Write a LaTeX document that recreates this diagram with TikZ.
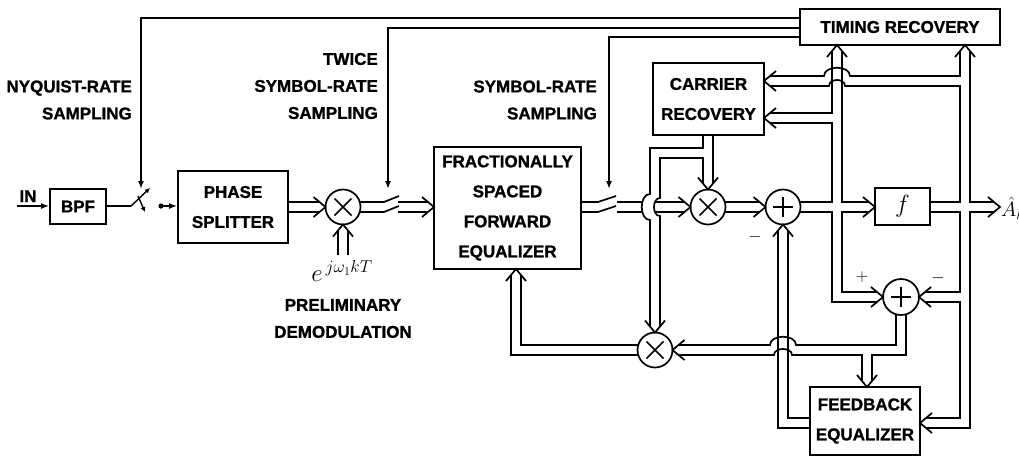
\documentclass[tikz,border=0pt]{standalone}
\usepackage[no-math]{fontspec}
\setmainfont{Liberation Sans}[BoldFeatures={FakeBold=1.2}]
\usetikzlibrary{arrows.meta}
\newcommand\chevR[2]{\draw[ln] (#1-12,#2-10) -- (#1,#2) -- (#1-12,#2+10);}
\newcommand\chevL[2]{\draw[ln] (#1+12,#2-10) -- (#1,#2) -- (#1+12,#2+10);}
\newcommand\chevU[2]{\draw[ln] (#1-10,#2+12) -- (#1,#2) -- (#1+10,#2+12);}
\newcommand\chevD[2]{\draw[ln] (#1-10,#2-12) -- (#1,#2) -- (#1+10,#2-12);}
\tikzset{
 ln/.style={line width=1.7pt},
 box/.style={draw, line width=1.7pt, inner sep=0pt, align=center, font=\bfseries\fontsize{17}{30}\selectfont},
 lbl/.style={inner sep=0pt, font=\bfseries\fontsize{17}{27}\selectfont},
 circ/.style={draw, circle, line width=1.7pt, inner sep=0pt, minimum size=35pt},
 arr/.style={ln, -{Latex[length=8pt,width=6pt]}},
 sarr/.style={line width=1.4pt, -{Latex[length=5pt,width=5pt]}},
}
\begin{document}
\begin{tikzpicture}[x=1pt,y=-1pt]
\useasboundingbox (0,0) rectangle (1019,459);
% boxes
\node[box, minimum width=56pt, minimum height=35pt] (bpf) at (78,206.5) {BPF};
\node[box, minimum width=110pt, minimum height=72pt] (ps) at (233,207) {PHASE\\SPLITTER};
\node[box, minimum width=147pt, minimum height=122pt] (fse) at (507.5,208) {FRACTIONALLY\\SPACED\\FORWARD\\EQUALIZER};
\node[box, minimum width=111pt, minimum height=72pt] (cr) at (708.5,99) {CARRIER\\RECOVERY};
\node[box, minimum width=200pt, minimum height=36pt] (tr) at (900,27) {TIMING RECOVERY};
\node[box, minimum width=55pt, minimum height=37pt, font=\fontsize{30}{30}\selectfont] (fb) at (902.5,206.5) {$f$};
\node[box, minimum width=110pt, minimum height=68pt] (fe) at (865,421) {FEEDBACK\\EQUALIZER};
% circles
\node[circ] (m1) at (343,207) {};
\node[circ] (m2) at (708,207) {};
\node[circ] (s1) at (783,207) {};
\node[circ, minimum size=36pt] (s2) at (901,297) {};
\node[circ] (m3) at (655,350) {};
\foreach \c in {m1,m2,m3}{
  \draw[ln] (\c.center) +(-8.5,-8.5) -- +(8.5,8.5);
  \draw[ln] (\c.center) +(-8.5,8.5) -- +(8.5,-8.5);}
\foreach \c in {s1,s2}{
  \draw[ln] (\c.center) +(-10,0) -- +(10,0);
  \draw[ln] (\c.center) +(0,-10) -- +(0,10);}
% labels
\node[lbl, anchor=base] (inl) at (28,202) {IN};
\node[lbl, anchor=east, align=right] (nyq) at (132,100) {NYQUIST-RATE\\SAMPLING};
\node[lbl, anchor=east, align=right] (twice) at (378,86) {TWICE\\SYMBOL-RATE\\SAMPLING};
\node[lbl, anchor=east, align=right] (symb) at (597,100) {SYMBOL-RATE\\SAMPLING};
\node[lbl, align=center] (prel) at (343,318.5) {PRELIMINARY\\DEMODULATION};
\node[inner sep=0pt, font=\fontsize{26}{26}\selectfont] (ex) at (342,271) {$e^{\,j\omega_1 kT}$};
\node[inner sep=0pt, anchor=west, font=\fontsize{20}{20}\selectfont] (ahat) at (1001,208) {$\hat{A}_k$};
\node[inner sep=0pt, font=\fontsize{18}{18}\selectfont] (pl) at (862,277) {$+$};
\node[inner sep=0pt, font=\fontsize{18}{18}\selectfont] (mi2) at (938,278) {$-$};
\node[inner sep=0pt, font=\fontsize{18}{18}\selectfont] (mi1) at (755,237) {$-$};
% input
\coordinate (in) at (17,206);
\draw[arr] (in) -- (bpf.west |- in);
\draw[ln] (106,206) -- (131,206);
\draw[sarr] (131,206) -- (150,188);
\draw[sarr] (138,196) -- (145,212);
\coordinate (dot) at (161,206);
\fill (dot) circle[radius=2.6];
\draw[arr] (dot) -- (ps.west |- dot);
% sampling control lines
\draw[arr] (800,18) -- (141,18) -- (141,189);
\draw[arr] (800,28) -- (388,28) -- (388,189);
\draw[arr] (800,37) -- (609,37) -- (609,189);
% PS -> M1
\draw[ln] (288,202) -- (319.5,202); \draw[ln] (288,212) -- (319.5,212); \chevR{325.5}{207}
\draw[ln] (338,255) -- (338,230.5); \draw[ln] (348,255) -- (348,230.5); \chevU{343}{224.5}
% M1 -> switch -> FSE
\draw[ln] (359.8,202) -- (384,202) -- (399,196);
\draw[ln] (359.8,212) -- (384,212) -- (399,206);
\draw[ln] (398,202) -- (428,202); \draw[ln] (398,212) -- (428,212); \chevR{434}{207}
% FSE -> switch -> M2
\draw[ln] (581,202) -- (598,202) -- (616,196);
\draw[ln] (581,212) -- (598,212) -- (616,206);
\draw[ln] (617,202) -- (642.3,202); \draw[ln] (617,212) -- (642.3,212);
\draw[ln] (654.9,202) -- (684.5,202); \draw[ln] (654.9,212) -- (684.5,212); \chevR{690.5}{207}
% carrier recovery output
\draw[ln] (713,135) -- (713,183.5);
\draw[ln] (703,135) -- (703,148) -- (650,148) -- (650,194) .. controls (639,194) and (639,220) .. (650,220) -- (650,326.5);
\draw[ln] (703,183.5) -- (703,158) -- (660,158) -- (660,198) .. controls (652,198) and (652,216) .. (660,216) -- (660,326.5);
\chevD{708}{189.5} \chevD{655}{332.5}
% M2 -> S1
\draw[ln] (724.8,202) -- (759.5,202); \draw[ln] (724.8,212) -- (759.5,212); \chevR{765.5}{207}
% S1 junction
\draw[ln] (799.8,202) -- (832,202) -- (832,123) -- (770,123);
\draw[ln] (770,113) -- (832,113) -- (832,51);
\draw[ln] (842,51) -- (842,202) -- (869,202);
\draw[ln] (869,212) -- (842,212) -- (842,292) -- (877,292);
\draw[ln] (799.8,212) -- (832,212) -- (832,302) -- (877,302);
\chevU{837}{45} \chevL{764}{118} \chevR{875}{207} \chevR{883}{297}
% decision output junction
\draw[ln] (930,202) -- (960,202) -- (960,86) -- (845,86) .. controls (845,78) and (829,78) .. (829,86) -- (770,86);
\draw[ln] (770,76) -- (824,76) .. controls (824,65) and (850,65) .. (850,76) -- (960,76) -- (960,51);
\draw[ln] (970,51) -- (970,202) -- (994,202);
\draw[ln] (994,212) -- (970,212) -- (970,428) -- (926,428);
\draw[ln] (930,212) -- (960,212) -- (960,292) -- (925,292);
\draw[ln] (925,302) -- (960,302) -- (960,418) -- (926,418);
\chevU{965}{45} \chevL{764}{81} \chevR{1000}{207} \chevL{919}{297} \chevL{920}{423}
% S2 output
\draw[ln] (896,314.3) -- (896,345) -- (796,345) .. controls (796,334) and (770,334) .. (770,345) -- (678.5,345);
\draw[ln] (906,314.3) -- (906,355) -- (872,355) -- (872,381);
\draw[ln] (862,381) -- (862,355) -- (792,355) .. controls (792,347) and (774,347) .. (774,355) -- (678.5,355);
\chevD{867}{387} \chevL{672.5}{350}
% FE output
\draw[ln] (810,418) -- (788,418) -- (788,230.5);
\draw[ln] (810,428) -- (778,428) -- (778,230.5);
\chevU{783}{224.5}
% M3 -> FSE
\draw[ln] (638.2,345) -- (521,345) -- (521,275);
\draw[ln] (638.2,355) -- (511,355) -- (511,275);
\chevU{516}{269}
\end{tikzpicture}
\end{document}
